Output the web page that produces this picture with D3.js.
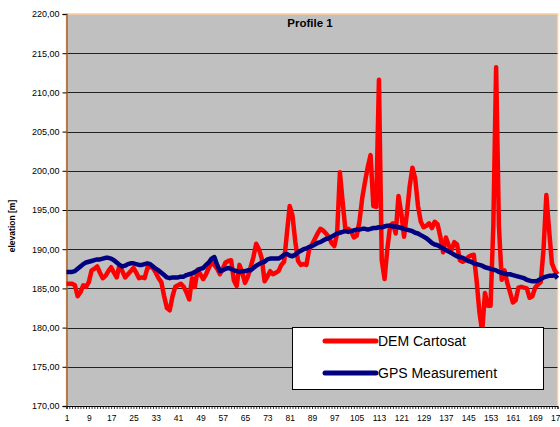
<!doctype html>
<html>
  <head>
    <meta charset="utf-8">
    <title>Profile 1</title>
    <script src="https://cdnjs.cloudflare.com/ajax/libs/d3/7.8.5/d3.min.js"></script>
    <style>
      body { margin: 0; background: #fff; }
      text { font-family: "Liberation Sans", Arial, sans-serif; }
    </style>
  </head>
  <body>
    <div id="chart"></div>
    <script>
      // elevation values, one per point 1..177
      const demCartosat = [
        185.6, 185.6, 185.6, 185.4, 184.0, 184.5, 185.4, 185.2, 185.8, 187.3,
        187.5, 187.8, 187.0, 186.3, 186.6, 187.2, 187.7, 187.0, 186.4, 188.0,
        187.2, 186.4, 186.8, 187.2, 187.6, 187.0, 186.3, 186.4, 186.3, 187.6,
        187.8, 187.6, 187.0, 186.3, 185.8, 184.0, 182.5, 182.2, 184.0, 185.2,
        185.4, 185.6, 185.2, 184.5, 183.6, 186.3, 185.2, 187.4, 186.8, 186.2,
        186.8, 187.6, 188.3, 188.0, 187.5, 186.8, 187.5, 188.3, 188.5, 188.6,
        186.0, 185.3, 188.0, 187.0, 185.7, 186.5, 187.7, 189.0, 190.7, 190.0,
        188.8, 185.9, 186.5, 187.2, 186.8, 187.0, 187.2, 188.0, 188.4, 192.0,
        195.5, 194.3, 191.0, 188.5, 188.0, 188.1, 188.0, 190.0, 190.6, 191.3,
        192.0, 192.6, 192.4, 192.0, 191.6, 190.8, 190.4, 192.0, 199.8, 196.0,
        192.4, 192.6, 192.3, 191.5, 191.7, 193.5, 196.5, 198.6, 200.5, 202.0,
        195.5, 195.4, 211.6, 188.6, 186.2, 190.0, 193.0, 193.3, 192.0, 196.8,
        194.6, 191.6, 194.5, 198.0, 200.4, 199.0, 195.5, 193.5, 192.8, 193.0,
        193.3, 192.7, 193.5, 193.2, 191.6, 189.6, 191.5, 190.5, 189.9, 190.9,
        190.6, 188.6, 188.4, 188.6, 189.0, 189.2, 189.3, 186.0, 182.0, 179.5,
        184.4, 182.8, 182.8, 193.0, 213.2, 193.0, 186.1, 187.3, 185.7, 184.5,
        183.2, 183.5, 185.1, 185.2, 185.1, 185.0, 183.8, 184.0, 185.1, 185.5,
        185.8, 190.0, 196.9, 192.4, 188.2, 187.3, 186.8
      ];

      const gpsMeasurement = [
        187.1, 187.1, 187.1, 187.2, 187.5, 187.8, 188.1, 188.3, 188.4, 188.5,
        188.6, 188.7, 188.7, 188.8, 188.9, 188.9, 188.8, 188.6, 188.3, 188.0,
        187.8, 187.9, 188.1, 188.2, 188.2, 188.1, 188.0, 188.0, 188.1, 188.2,
        188.1, 187.8, 187.5, 187.3, 187.0, 186.7, 186.4, 186.3, 186.4, 186.4,
        186.4, 186.5, 186.5, 186.7, 186.8, 186.9, 187.1, 187.3, 187.5, 187.6,
        188.0, 188.3, 188.8, 189.0, 188.0, 187.2, 187.3, 187.5, 187.6, 187.5,
        187.3, 187.2, 187.1, 187.2, 187.2, 187.3, 187.3, 187.6, 187.9, 188.1,
        188.3, 188.4, 188.7, 188.8, 188.8, 188.8, 188.8, 189.0, 189.3, 189.4,
        189.2, 189.1, 189.3, 189.6, 189.8, 190.0, 190.1, 190.3, 190.4, 190.6,
        190.8, 190.9, 191.1, 191.3, 191.4, 191.6, 191.8, 192.0, 192.1, 192.2,
        192.3, 192.2, 192.3, 192.4, 192.5, 192.5, 192.6, 192.6, 192.5, 192.6,
        192.7, 192.7, 192.8, 192.8, 192.9, 193.0, 193.0, 192.9, 192.9, 192.8,
        192.7, 192.6, 192.5, 192.4, 192.3, 192.1, 192.0, 191.8, 191.6, 191.4,
        191.1, 190.8, 190.6, 190.5, 190.3, 190.1, 189.9, 189.7, 189.5, 189.3,
        189.1, 189.0, 188.9, 188.7, 188.5, 188.4, 188.2, 188.1, 188.0, 187.9,
        187.7, 187.6, 187.5, 187.4, 187.3, 187.1, 187.0, 186.9, 186.8, 186.8,
        186.7, 186.6, 186.5, 186.4, 186.3, 186.1, 186.0, 185.9, 185.9, 186.0,
        186.2, 186.4, 186.5, 186.6, 186.6, 186.7, 186.3
      ];

      const points = d3.range(1, 178);
      const xTickLabels = d3.range(1, 178, 8);
      const yTicks = d3.range(170, 221, 5);
      const seriesNames = ["DEM Cartosat", "GPS Measurement"];
      const seriesColors = ["#ff0000", "#000080"];

      const width = 560, height = 427;
      const plot = { left: 66.5, right: 557.5, top: 14, bottom: 406 };

      const svg = d3.select("#chart").append("svg")
        .attr("width", width)
        .attr("height", height);

      svg.append("rect").attr("width", width).attr("height", height).attr("fill", "#fff");

      const x = d3.scalePoint().domain(points).range([plot.left, plot.right]);
      const y = d3.scaleLinear().domain([170, 220]).range([plot.bottom, plot.top]);

      // plot area
      svg.append("rect")
        .attr("x", plot.left).attr("y", plot.top)
        .attr("width", plot.right - plot.left)
        .attr("height", plot.bottom - plot.top)
        .attr("fill", "#c0c0c0")
        .attr("stroke", "#ffcc99")
        .attr("stroke-width", 1.5);

      // gridlines
      svg.append("g")
        .selectAll("line")
        .data(yTicks.filter(d => d > 170 && d < 220))
        .join("line")
        .attr("x1", plot.left).attr("x2", plot.right)
        .attr("y1", d => Math.round(y(d)) + 0.5)
        .attr("y2", d => Math.round(y(d)) + 0.5)
        .attr("stroke", "#222")
        .attr("stroke-width", 1);

      // y axis
      const yAxis = svg.append("g")
        .attr("transform", `translate(${plot.left},0)`)
        .call(d3.axisLeft(y).tickValues(yTicks).tickSize(4).tickPadding(3)
          .tickFormat(d => d3.format(".2f")(d).replace(".", ",")));
      yAxis.select(".domain").attr("stroke", "#a0632a").attr("stroke-width", 1.5);
      yAxis.selectAll(".tick line").attr("stroke", "#000");
      yAxis.selectAll("text").attr("font-size", 9).attr("fill", "#000")
        .attr("font-family", '"Liberation Sans", Arial, sans-serif');

      // x axis: tick at every point, label every 8th
      const xAxis = svg.append("g")
        .attr("transform", `translate(0,${plot.bottom})`)
        .call(d3.axisBottom(x).tickSize(3).tickPadding(6)
          .tickFormat(d => xTickLabels.includes(d) ? d : ""));
      xAxis.select(".domain").attr("stroke", "#000").attr("stroke-width", 1);
      xAxis.selectAll(".tick line").attr("stroke", "#000").attr("stroke-width", 0.8);
      xAxis.selectAll("text").attr("font-size", 8.5).attr("fill", "#000")
        .attr("font-family", '"Liberation Sans", Arial, sans-serif');

      // y axis title
      svg.append("text")
        .attr("transform", `translate(15,${(plot.top + plot.bottom) / 2 + 16}) rotate(-90)`)
        .attr("text-anchor", "middle")
        .attr("font-size", 8.5)
        .attr("font-weight", "bold")
        .text("elevation [m]");

      // title
      svg.append("text")
        .attr("x", 310).attr("y", 27)
        .attr("text-anchor", "middle")
        .attr("font-size", 11.5)
        .attr("font-weight", "bold")
        .text("Profile 1");

      // lines
      const line = d3.line()
        .x((d, i) => x(points[i]))
        .y(d => y(d));

      [demCartosat, gpsMeasurement].forEach((vals, k) => {
        svg.append("path")
          .datum(vals)
          .attr("d", line)
          .attr("fill", "none")
          .attr("stroke", seriesColors[k])
          .attr("stroke-width", 4.5)
          .attr("stroke-linejoin", "round");
      });

      // legend
      const legend = svg.append("g");
      legend.append("rect")
        .attr("x", 292.5).attr("y", 327.5)
        .attr("width", 251).attr("height", 62)
        .attr("fill", "#fff")
        .attr("stroke", "#000");

      seriesNames.forEach((name, k) => {
        const ly = 341 + k * 32;
        legend.append("line")
          .attr("x1", 325).attr("x2", 376)
          .attr("y1", ly).attr("y2", ly)
          .attr("stroke", seriesColors[k])
          .attr("stroke-width", 5)
          .attr("stroke-linecap", "round");
        legend.append("text")
          .attr("x", 378).attr("y", ly + 5)
          .attr("font-size", 14)
          .text(name);
      });
    </script>
  </body>
</html>
